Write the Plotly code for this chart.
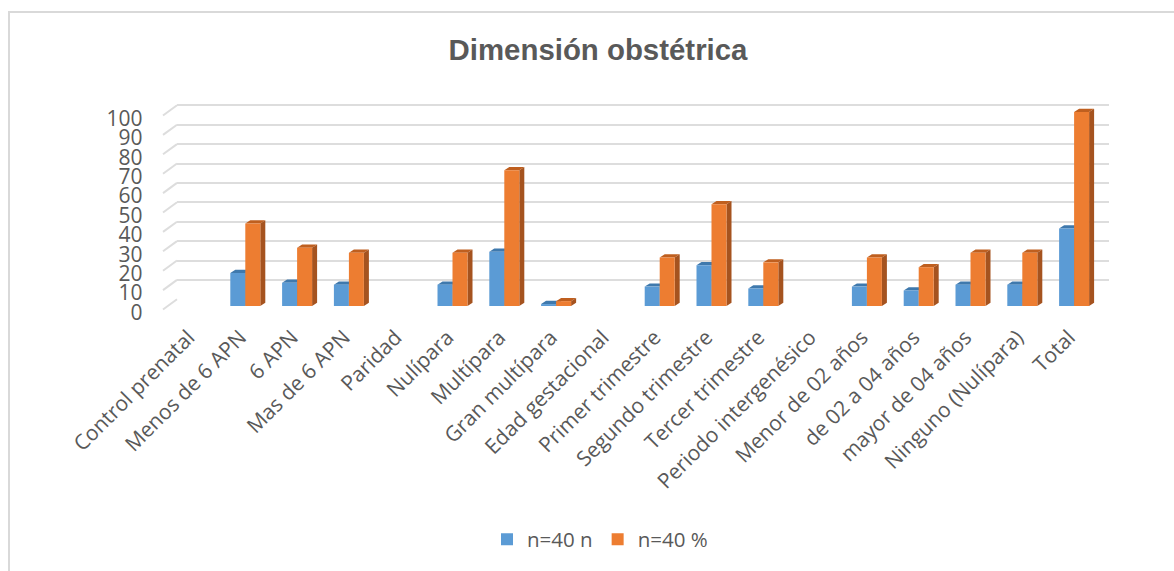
import plotly.graph_objects as go

W, H = 1174, 571

categories = ["Control prenatal", "Menos de 6 APN", "6 APN", "Mas de 6 APN", "Paridad", "Nulípara",
              "Multípara", "Gran multípara", "Edad gestacional", "Primer trimestre", "Segundo trimestre",
              "Tercer trimestre", "Periodo intergenésico", "Menor de 02 años", "de 02 a 04 años",
              "mayor de 04 años", "Ninguno (Nulípara)", "Total"]
n_values = [None, 17, 12, 11, None, 11, 28, 1, None, 10, 21, 9, None, 10, 8, 11, 11, 40]
pct_values = [None, 42.5, 30, 27.5, None, 27.5, 70, 2.5, None, 25, 52.5, 22.5, None, 25, 20, 27.5, 27.5, 100]
y_ticks = list(range(0, 101, 10))

GREY = "#595959"
GRID = "#DDDDDD"
BLUE, ORANGE = "#5B9BD5", "#ED7D31"
BLUE_TOP, BLUE_SIDE = "#3F79AD", "#3F6F9B"
ORANGE_TOP, ORANGE_SIDE = "#BF5F1F", "#A5531F"

PX_CAT = 51.8          # pixels per category
PX_UNIT = 1.94         # pixels per value unit
X0_PX, X1_PX = 177, 1109
CAT0_PX = 193.5
BAR_W = 15 / PX_CAT
DEPTH_X = 5 / PX_CAT
DEPTH_Y = 3.2 / PX_UNIT
BACK_ZERO, BAR_ZERO, FRONT_ZERO, LABEL_ZERO = 299.3, 306.0, 309.5, 312.5
Y_TOP_VALUE = 103.5


def y_domain(zero_px):
    return [1 - zero_px / H, 1 - (zero_px - Y_TOP_VALUE * PX_UNIT) / H]


def faces(values, offset, top_col, side_col):
    out = []
    for i, v in enumerate(values):
        if v is None:
            continue
        l = i + offset
        r = l + BAR_W
        top = f"M{l},{v} L{l + DEPTH_X},{v + DEPTH_Y} L{r + DEPTH_X},{v + DEPTH_Y} L{r},{v} Z"
        side = f"M{r},0 L{r + DEPTH_X},{DEPTH_Y} L{r + DEPTH_X},{v + DEPTH_Y} L{r},{v} Z"
        for p, c in ((top, top_col), (side, side_col)):
            out.append(dict(type="path", path=p, xref="x", yref="y2", fillcolor=c,
                            line=dict(width=0), layer="between"))
    return out


shapes = faces(n_values, -BAR_W, BLUE_TOP, BLUE_SIDE) + faces(pct_values, 0, ORANGE_TOP, ORANGE_SIDE)

# slanted wall segments on the left side, one per tick
for t in y_ticks:
    shapes.append(dict(type="line", xref="paper", yref="paper", layer="below",
                       x0=163 / W, x1=X0_PX / W,
                       y0=1 - (FRONT_ZERO - t * PX_UNIT) / H, y1=1 - (BACK_ZERO - t * PX_UNIT) / H,
                       line=dict(color=GRID, width=2)))

# chart frame: left and top edges only, as in the picture
shapes.append(dict(type="path", xref="paper", yref="paper", layer="below",
                   path=f"M{9 / W},0 L{9 / W},{1 - 12 / H} L1,{1 - 12 / H}",
                   line=dict(color="#D9D9D9", width=2)))

fig = go.Figure()
fig.add_trace(go.Scatter(x=categories, y=pct_values, yaxis="y", mode="markers",
                         marker=dict(opacity=0), showlegend=False, hoverinfo="skip"))
fig.add_trace(go.Bar(x=categories, y=n_values, name="n=40 n", marker=dict(color=BLUE, line=dict(width=0)), yaxis="y2"))
fig.add_trace(go.Bar(x=categories, y=pct_values, name="n=40 %", marker=dict(color=ORANGE, line=dict(width=0)), yaxis="y2"))
fig.add_trace(go.Scatter(x=categories, y=pct_values, yaxis="y3", mode="markers",
                         marker=dict(opacity=0), showlegend=False, hoverinfo="skip"))

common_y = dict(range=[0, Y_TOP_VALUE], tickvals=y_ticks, zeroline=False, showline=False, anchor="x", automargin=False)
fig.update_layout(
    width=W, height=H, autosize=False,
    margin=dict(l=0, r=0, t=0, b=0, autoexpand=False),
    paper_bgcolor="white", plot_bgcolor="rgba(0,0,0,0)",
    barmode="group", bargap=1 - 2 * BAR_W, bargroupgap=0,
    title=dict(text="<b>Dimensión obstétrica</b>", x=598 / W, xanchor="center", y=1 - 50 / H, yanchor="middle",
               font=dict(family="Liberation Sans", size=29.4, color=GREY), automargin=False),
    font=dict(family="Open Sans", color=GREY),
    xaxis=dict(domain=[X0_PX / W, X1_PX / W], anchor="y2", type="category", automargin=False,
               categoryorder="array", categoryarray=categories,
               range=[(X0_PX - CAT0_PX) / PX_CAT, (X1_PX - CAT0_PX) / PX_CAT],
               tickangle=-45, tickfont=dict(size=21, color=GREY), showgrid=False, showline=False,
               ticks="", zeroline=False, tickmode="array", tickvals=categories, ticktext=categories,
               ticklabelstandoff=14, ticklabelshift=-5),
    yaxis=dict(domain=y_domain(BACK_ZERO), showgrid=True, gridcolor=GRID, gridwidth=2, showticklabels=False, **common_y),
    yaxis2=dict(domain=y_domain(BAR_ZERO), showgrid=False, showticklabels=False, **common_y),
    yaxis3=dict(domain=y_domain(LABEL_ZERO), showgrid=False, showticklabels=True,
                tickfont=dict(size=21, color=GREY), side="left", automargin=False,
                range=[0, Y_TOP_VALUE], tickvals=y_ticks, zeroline=False, showline=False, anchor="free",
                position=142.5 / W),
    legend=dict(orientation="h", x=600 / W, xanchor="center", y=1 - 539.5 / H, yanchor="middle",
                font=dict(size=20.5, color=GREY), bgcolor="rgba(0,0,0,0)"),
    shapes=shapes,
)

fig.write_html("out.html", config={"displayModeBar": False}, post_script="document.body.style.margin='0';")
